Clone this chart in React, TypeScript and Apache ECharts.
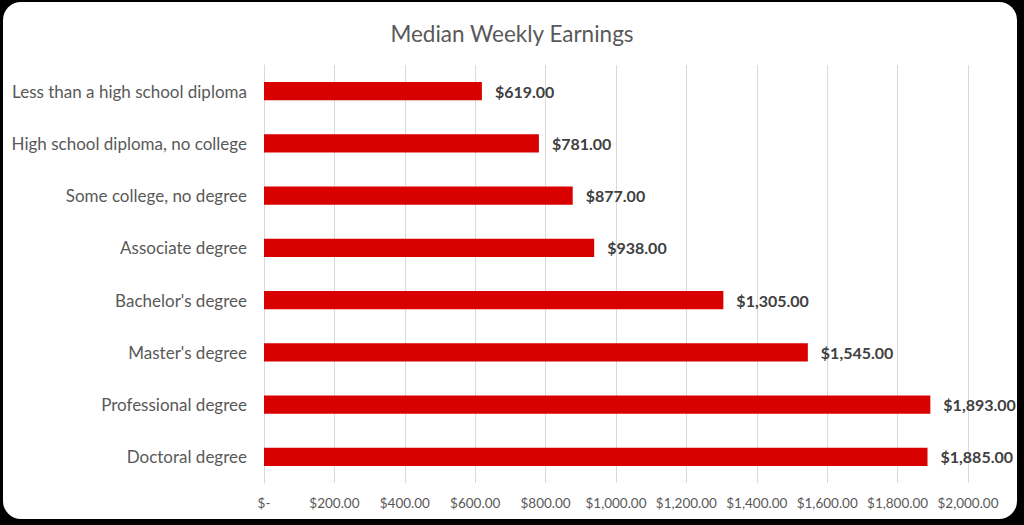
import React, { useEffect, useRef } from "react";
import * as echarts from "echarts";

const categories = [
  "Less than a high school diploma",
  "High school diploma, no college",
  "Some college, no degree",
  "Associate degree",
  "Bachelor's degree",
  "Master's degree",
  "Professional degree",
  "Doctoral degree",
];
const earnings = [619, 781, 877, 938, 1305, 1545, 1893, 1885];
const axisTicks = [0, 200, 400, 600, 800, 1000, 1200, 1400, 1600, 1800, 2000];

const fmt = (v: number) =>
  "$" + v.toLocaleString("en-US", { minimumFractionDigits: 2, maximumFractionDigits: 2 });

export default function App() {
  const ref = useRef<HTMLDivElement>(null);
  useEffect(() => {
    if (!ref.current) return;
    const chart = echarts.init(ref.current, undefined, { renderer: "svg" });
    chart.setOption({
      animation: false,
      backgroundColor: "transparent",
      textStyle: { fontFamily: "Lato" },
      title: {
        text: "Median Weekly Earnings",
        left: "center",
        top: 17,
        textStyle: { fontFamily: "Lato", fontSize: 22.5, fontWeight: "normal", color: "#595959" },
      },
      grid: { left: 264, right: 56, top: 65, bottom: 42, containLabel: false },
      xAxis: {
        type: "value",
        min: axisTicks[0],
        max: axisTicks[axisTicks.length - 1],
        interval: 200,
        axisLine: { show: false },
        axisTick: { show: false },
        splitLine: { show: true, lineStyle: { color: "#d9d9d9", width: 1 } },
        axisLabel: {
          color: "#595959",
          fontSize: 13.5,
          margin: 13,
          formatter: (v: number) => (v === 0 ? "$-" : fmt(v)),
        },
      },
      yAxis: {
        type: "category",
        data: categories,
        inverse: true,
        axisLine: { show: true, lineStyle: { color: "#d9d9d9" } },
        axisTick: { show: false },
        axisLabel: { color: "#595959", fontSize: 17, margin: 17 },
      },
      series: [
        {
          type: "bar",
          data: earnings,
          barWidth: "35%",
          itemStyle: { color: "#d90000" },
          label: {
            show: true,
            position: "right",
            distance: 13,
            color: "#404040",
            fontSize: 16,
            fontWeight: "bold",
            formatter: (p: any) => fmt(p.value),
          },
        },
      ],
    });
    return () => chart.dispose();
  }, []);
  return (
    <div style={{ position: "fixed", left: 0, top: 0, width: 1024, height: 525, background: "#000" }}>
      <div
        style={{
          position: "absolute",
          left: 3,
          top: 2,
          width: 1014,
          height: 517,
          background: "#fff",
          borderRadius: 18,
        }}
      />
      <div ref={ref} style={{ position: "absolute", left: 0, top: 0, width: 1024, height: 525 }} />
    </div>
  );
}
